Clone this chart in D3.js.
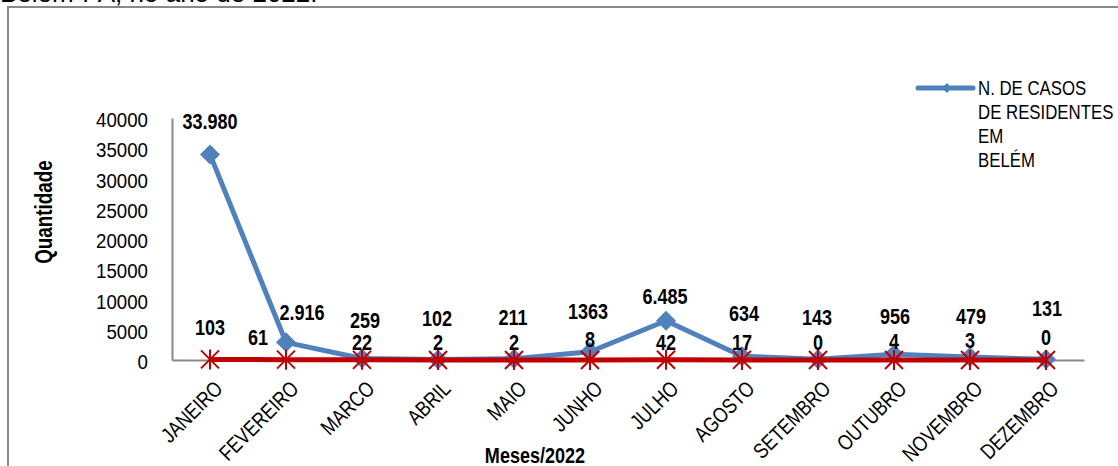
<!DOCTYPE html>
<html>
<head>
<meta charset="utf-8">
<script src="https://cdn.jsdelivr.net/npm/d3@7"></script>
<style>
  html, body { margin: 0; padding: 0; background: #fff; }
  svg { display: block; }
  text { font-family: "Liberation Sans", Arial, sans-serif; }
</style>
</head>
<body>
<svg id="chart" width="1118" height="466"></svg>
<script>
// Months of 2022
const months = ["JANEIRO", "FEVEREIRO", "MARCO", "ABRIL", "MAIO", "JUNHO",
                "JULHO", "AGOSTO", "SETEMBRO", "OUTUBRO", "NOVEMBRO", "DEZEMBRO"];

// Cases among residents of Belém (blue series)
const residentes = [33980, 2916, 259, 102, 211, 1363, 6485, 634, 143, 956, 479, 131];
const residentesText = ["33.980", "2.916", "259", "102", "211", "1363", "6.485", "634", "143", "956", "479", "131"];

// Second series (red)
const serie2 = [103, 61, 22, 2, 2, 8, 42, 17, 0, 4, 3, 0];

// Y axis ticks
const yTicks = [0, 5000, 10000, 15000, 20000, 25000, 30000, 35000, 40000];

// Label nudges (label centre relative to its point)
const blueNudge = [[0,-33],[16,-30],[3,-38],[-1,-41],[-1,-42],[-2,-41],[-1,-25],[2,-43],[-1,-42],[1,-38],[1,-41],[1,-51]];
const redNudge  = [[0,-32],[-28,-23],[0,-18],[0,-18],[0,-18],[0,-21],[0,-18],[0,-18],[0,-18],[0,-19],[0,-20],[0,-23]];

const BLUE = "#4F81BD", RED = "#C00000", GREY = "#898989";

// Condense a text selection along its own direction, optionally rotated
function condense(sel, angle = 0, k = 0.82) {
  sel.each(function () {
    const t = d3.select(this);
    const tx = +t.attr("x") || 0, ty = +t.attr("y") || 0;
    t.attr("x", 0).attr("y", 0)
     .attr("transform", `translate(${tx},${ty}) rotate(${angle}) scale(${k},1)`);
  });
}

const svg = d3.select("#chart");

// Caption line above the frame
svg.append("text")
  .attr("x", 0).attr("y", 2)
  .attr("font-size", 26)
  .attr("fill", "#000")
  .text("Belém-PA, no ano de 2022.");

// Chart frame
svg.append("rect")
  .attr("x", 8).attr("y", 7).attr("width", 1300).attr("height", 700)
  .attr("fill", "#fff").attr("stroke", GREY).attr("stroke-width", 2);

const x = d3.scaleBand().domain(months).range([172, 1084]);
const cx = m => x(m) + x.bandwidth() / 2;
const y = d3.scaleLinear().domain([0, 40000]).range([360, 118]);

// Y axis
const yAxis = svg.append("g")
  .attr("transform", "translate(172,0)")
  .call(d3.axisLeft(y).tickValues(yTicks).tickSize(0).tickSizeOuter(0).tickPadding(24).tickFormat(d3.format("d")));
yAxis.select(".domain").attr("stroke", GREY).attr("stroke-width", 2);
yAxis.selectAll(".tick text")
  .attr("font-size", 21).attr("fill", "#000").attr("font-family", null)
  .attr("x", -24).attr("y", 1).attr("dy", "0.36em")
  .call(condense, 0, 0.89);

// X axis
const xAxis = svg.append("g")
  .attr("transform", "translate(0,360)")
  .call(d3.axisBottom(x).tickSize(0).tickSizeOuter(0));
xAxis.select(".domain").attr("stroke", GREY).attr("stroke-width", 2);
xAxis.selectAll(".tick text")
  .attr("font-size", 21.5).attr("font-family", null)
  .attr("fill", "#000")
  .attr("text-anchor", "end")
  .attr("x", 3).attr("y", 19).attr("dy", "0.72em")
  .call(condense, -45);

// Axis titles
svg.append("text")
  .attr("x", 52).attr("y", 212)
  .attr("text-anchor", "middle")
  .attr("font-size", 23).attr("font-weight", "bold")
  .text("Quantidade")
  .call(condense, -90);

svg.append("text")
  .attr("x", 535).attr("y", 463)
  .attr("text-anchor", "middle")
  .attr("font-size", 22).attr("font-weight", "bold")
  .text("Meses/2022")
  .call(condense);

// Blue series: line + diamonds
const line = d3.line().x((d, i) => cx(months[i])).y(d => y(d));
const diamond = (w, h) => `M0,${-h}L${w},0L0,${h}L${-w},0Z`;

svg.append("path")
  .datum(residentes)
  .attr("d", line)
  .attr("fill", "none").attr("stroke", BLUE).attr("stroke-width", 5)
  .attr("stroke-linejoin", "round");

svg.selectAll(".dia").data(residentes).join("path")
  .attr("class", "dia")
  .attr("transform", (d, i) => `translate(${cx(months[i])},${y(d)})`)
  .attr("d", diamond(10, 10))
  .attr("fill", BLUE);

// Red series: line + asterisks
svg.append("path")
  .datum(serie2)
  .attr("d", line)
  .attr("fill", "none").attr("stroke", RED).attr("stroke-width", 5);

const star = "M0,-10L0,10M-9,-9L9,9M-9,9L9,-9";
svg.selectAll(".star").data(serie2).join("path")
  .attr("class", "star")
  .attr("transform", (d, i) => `translate(${cx(months[i])},${y(d)})`)
  .attr("d", star)
  .attr("fill", "none").attr("stroke", RED).attr("stroke-width", 2);

// Data labels
svg.selectAll(".lblB").data(residentes).join("text")
  .attr("class", "lblB")
  .attr("x", (d, i) => cx(months[i]) + blueNudge[i][0])
  .attr("y", (d, i) => y(d) + blueNudge[i][1])
  .attr("dy", "0.36em")
  .attr("text-anchor", "middle")
  .attr("font-size", 22).attr("font-weight", "bold")
  .text((d, i) => residentesText[i])
  .call(condense);

svg.selectAll(".lblR").data(serie2).join("text")
  .attr("class", "lblR")
  .attr("x", (d, i) => cx(months[i]) + redNudge[i][0])
  .attr("y", (d, i) => y(d) + redNudge[i][1])
  .attr("dy", "0.36em")
  .attr("text-anchor", "middle")
  .attr("font-size", 22).attr("font-weight", "bold")
  .text(d => d)
  .call(condense);

// Legend
const lg = svg.append("g");
lg.append("line").attr("x1", 918).attr("x2", 973).attr("y1", 88).attr("y2", 88)
  .attr("stroke", BLUE).attr("stroke-width", 5).attr("stroke-linecap", "round");
lg.append("path").attr("transform", "translate(947,88)").attr("d", diamond(5, 5)).attr("fill", BLUE);
["N. DE CASOS", "DE RESIDENTES", "EM", "BELÉM"].forEach((t, i) => {
  lg.append("text")
    .attr("x", 978).attr("y", 88 + i * 24).attr("dy", "0.36em")
    .attr("font-size", 20.5).attr("fill", "#000").text(t)
    .call(condense);
});
</script>
</body>
</html>
